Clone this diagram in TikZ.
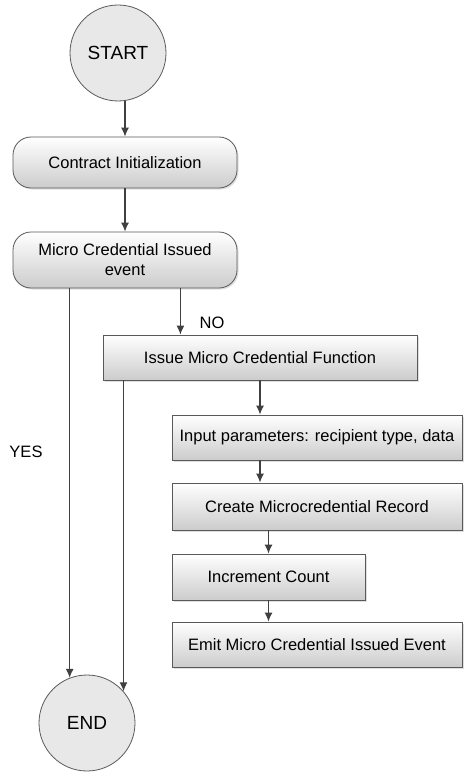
\documentclass[tikz,border=0pt]{standalone}
\usepackage{fontspec}
\setmainfont{Liberation Sans}
\usetikzlibrary{arrows.meta,shadows}

\begin{document}
\begin{tikzpicture}[x=1pt,y=-1pt,
  font=\fontsize{16.5}{20}\selectfont,
  terminal/.style={circle, draw=black!65, line width=0.8pt, fill=black!9, minimum size=96pt, font=\fontsize{19}{22}\selectfont},
  roundbox/.style={draw=black!65, line width=0.8pt, rounded corners=18pt, top color=white, bottom color=black!20, drop shadow={shadow xshift=1.5pt, shadow yshift=-1.5pt, opacity=0.25}, minimum width=224pt, align=center},
  procbox/.style={draw=black!65, line width=0.8pt, top color=white, bottom color=black!20, drop shadow={shadow xshift=1.5pt, shadow yshift=-1.5pt, opacity=0.25}, align=center},
  arr/.style={-{Latex[length=9pt,width=8pt]}, draw=black!75, line width=1.2pt}]
\useasboundingbox (0,0) rectangle (465,773);

\node[terminal] (start) at (118,53) {START};
\node[roundbox, minimum height=51pt] (init) at (125,162.5) {Contract Initialization};
\node[roundbox, minimum height=56pt] (event) at (125,260) {Micro Credential Issued\\event};
\node[procbox, minimum width=314pt, minimum height=45pt] (issue) at (260,357.5) {Issue Micro Credential Function};
\node[procbox, minimum width=290pt, minimum height=45pt] (input) at (317,437.5) {Input parameters: recipient type, data};
\node[procbox, minimum width=290pt, minimum height=47pt] (create) at (317,506.5) {Create Microcredential Record};
\node[procbox, minimum width=193pt, minimum height=46pt] (incr) at (268.5,577) {Increment Count};
\node[procbox, minimum width=290pt, minimum height=45pt] (emit) at (317,644.5) {Emit Micro Credential Issued Event};
\node[terminal] (finish) at (87,723) {END};

\node (yes) at (26,452) {YES};
\node (no) at (212,323) {NO};

\coordinate (nofork) at ([xshift=-57pt]event.south east);

\draw[arr] (init.north |- start.south) -- (init.north);
\draw[arr] (init) -- (event);
\draw[arr] (nofork) -- (nofork |- issue.north);
\draw[arr] (event.south -| finish.111) -- (finish.111);
\draw[arr] (issue.south -| finish.41) -- (finish.41);
\draw[arr] (issue.south) -- (issue.south |- input.north);
\draw[arr] (issue.south |- input.south) -- (issue.south |- create.north);
\draw[arr] (create.south -| incr) -- (incr);
\draw[arr] (incr) -- (incr.south |- emit.north);
\end{tikzpicture}
\end{document}
